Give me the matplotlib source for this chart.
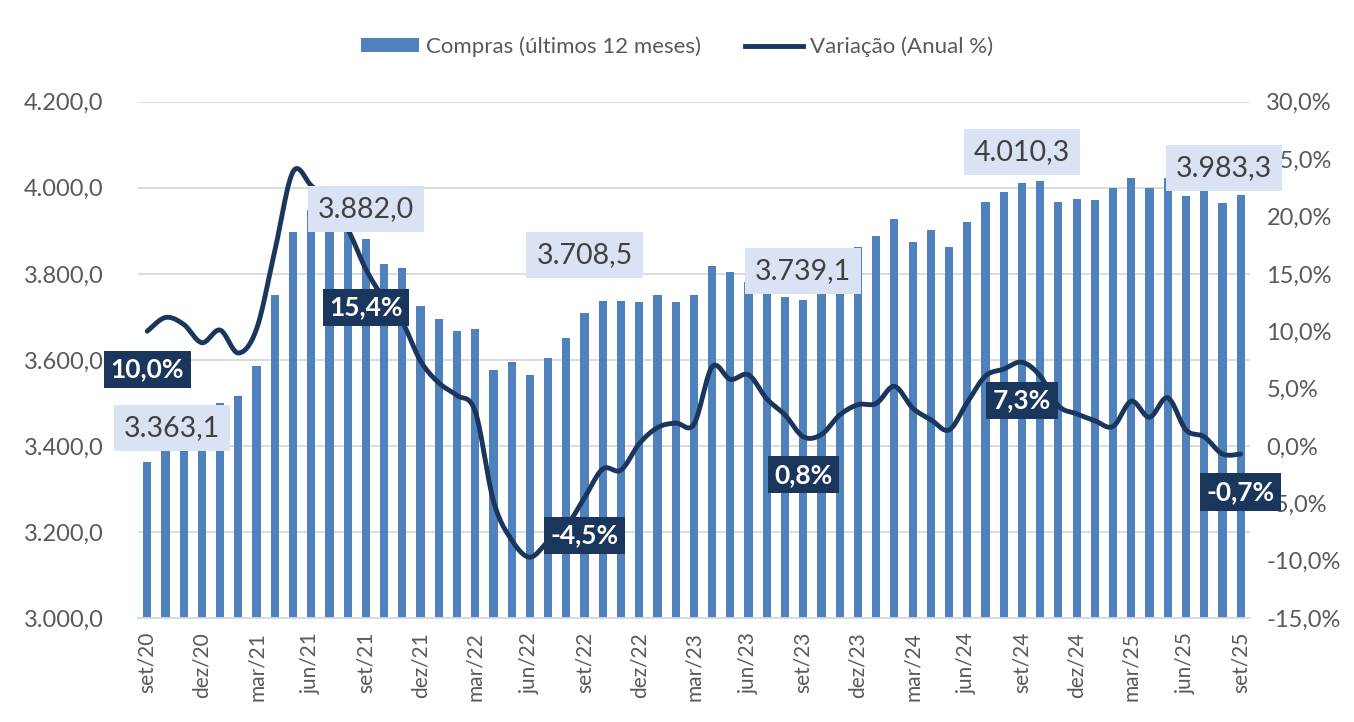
import matplotlib.pyplot as plt
import numpy as np
from matplotlib.patches import Patch
from matplotlib.lines import Line2D

plt.rcParams['font.family'] = ['Lato', 'DejaVu Sans']

# compras (últimos 12 meses), set/20 .. set/25
compras = [3363.1, 3395, 3410, 3445, 3500, 3517, 3585, 3751, 3897, 3948,
           3960, 3935, 3882.0, 3822, 3814, 3726, 3695, 3667, 3671, 3577,
           3596, 3564, 3605, 3652, 3708.5, 3738, 3738, 3735, 3750, 3735,
           3750, 3818, 3805, 3782, 3765, 3747, 3739.1, 3765, 3800, 3862,
           3889, 3928, 3873, 3901, 3862, 3920, 3967, 3990, 4010.3, 4015,
           3967, 3975, 3971, 4000, 4024, 4000, 4024, 3980, 3998, 3964,
           3983.3]

# variação anual (%)
variacao = [10.0, 11.2, 10.6, 9.0, 10.1, 8.1, 10.2, 17.0, 23.9, 22.7,
            21.1, 18.9, 15.4, 12.8, 10.8, 7.4, 5.5, 4.4, 3.0, -4.8,
            -8.2, -9.7, -8.3, -7.0, -4.5, -2.0, -2.1, 0.2, 1.6, 2.0,
            1.9, 6.9, 5.8, 6.2, 4.1, 2.7, 0.8, 1.0, 2.7, 3.6,
            3.7, 5.2, 3.3, 2.3, 1.4, 3.8, 6.1, 6.7, 7.3, 6.1,
            3.5, 2.8, 2.2, 1.7, 3.9, 2.5, 4.2, 1.4, 0.8, -0.7,
            -0.7]

tick_labels = ['set/20', 'dez/20', 'mar/21', 'jun/21', 'set/21', 'dez/21',
               'mar/22', 'jun/22', 'set/22', 'dez/22', 'mar/23', 'jun/23',
               'set/23', 'dez/23', 'mar/24', 'jun/24', 'set/24', 'dez/24',
               'mar/25', 'jun/25', 'set/25']

# pontos rotulados (índices dos meses de setembro)
rotulos = [0, 12, 24, 36, 48, 60]


def fmt_br(v, dec=1):
    s = f'{v:,.{dec}f}'
    return s.replace(',', 'X').replace('.', ',').replace('X', '.')


def suaviza(x, y, n=24):
    # curva de Catmull-Rom parecida com a linha suavizada do Excel
    pts = np.column_stack([x, y])
    p = np.vstack([pts[0], pts, pts[-1]])
    t = np.linspace(0, 1, n, endpoint=False)[:, None]
    out = []
    for i in range(1, len(p) - 2):
        p0, p1, p2, p3 = p[i - 1], p[i], p[i + 1], p[i + 2]
        seg = 0.5 * (2 * p1 + (-p0 + p2) * t
                     + (2 * p0 - 5 * p1 + 4 * p2 - p3) * t ** 2
                     + (-p0 + 3 * p1 - 3 * p2 + p3) * t ** 3)
        out.append(seg)
    out.append(pts[-1:])
    out = np.vstack(out)
    return out[:, 0], out[:, 1]


azul = '#4f81bd'
marinho = '#1b365d'
cinza = '#595959'

x = np.arange(len(compras))

fig = plt.figure(figsize=(13.54, 7.22), dpi=100)
ax = fig.add_axes([0.102, 0.144, 0.821, 0.715])
ax2 = ax.twinx()

ax.bar(x, compras, width=0.45, color=azul, zorder=2)
ax.set_ylim(3000, 4200)
ax.set_yticks(np.arange(3000, 4201, 200))
ax.set_yticklabels([fmt_br(v) for v in np.arange(3000, 4201, 200)])
ax.set_xlim(-0.5, len(compras) - 0.5)
ax.set_xticks(x[::3])
ax.set_xticklabels(tick_labels, rotation=90)
ax.yaxis.grid(True, color='#d9d9d9', lw=1.3)
ax.set_axisbelow(True)

xs, ys = suaviza(x, variacao)
ax2.plot(xs, ys, color=marinho, lw=3.5, solid_capstyle='round', zorder=3)
ax2.set_ylim(-15, 30)
ax2.set_yticks(np.arange(-15, 31, 5))
ax2.set_yticklabels([fmt_br(v) + '%' for v in np.arange(-15, 31, 5)])

for a in (ax, ax2):
    for s in a.spines.values():
        s.set_visible(False)
    a.tick_params(length=0, colors=cinza, labelsize=17)
ax.spines['bottom'].set_visible(True)
ax.spines['bottom'].set_color('#d9d9d9')
ax.spines['bottom'].set_linewidth(1.3)
ax.tick_params(axis='x', labelsize=15, pad=10)
ax.tick_params(axis='y', pad=25)
ax2.tick_params(axis='y', pad=12)

# rótulos das barras (caixa clara) e da linha (caixa escura)
desloc_barra = [(25, 34), (0, 30), (0, 58), (0, 29), (0, 31), (-17, 27)]
for i, (dx, dy) in zip(rotulos, desloc_barra):
    ax2.annotate(fmt_br(compras[i]), xy=(i, compras[i]), xycoords=ax.transData,
                 xytext=(dx, dy), textcoords='offset pixels',
                 ha='center', va='center', fontsize=20.5, color='#404040',
                 bbox=dict(boxstyle='square,pad=0.35', fc='#dae3f3', ec='none'),
                 zorder=6)

for i in rotulos:
    ax2.annotate(fmt_br(variacao[i]) + '%', xy=(i, variacao[i]),
                 xytext=(0, -38), textcoords='offset pixels',
                 ha='center', va='center', fontsize=19, fontweight='bold',
                 color='white',
                 bbox=dict(boxstyle='square,pad=0.25', fc=marinho, ec='none'),
                 zorder=6)

handles = [Patch(facecolor=azul, edgecolor='none'),
           Line2D([0], [0], color=marinho, lw=3.5)]
fig.legend(handles, ['Compras (últimos 12 meses)', 'Variação (Anual %)'],
           loc='center', bbox_to_anchor=(0.5, 0.935), ncol=2, frameon=False,
           fontsize=16, labelcolor=cinza, handlelength=2.6, handleheight=0.6,
           columnspacing=2.0, handletextpad=0.3)

fig.savefig('out.png', dpi=100)
